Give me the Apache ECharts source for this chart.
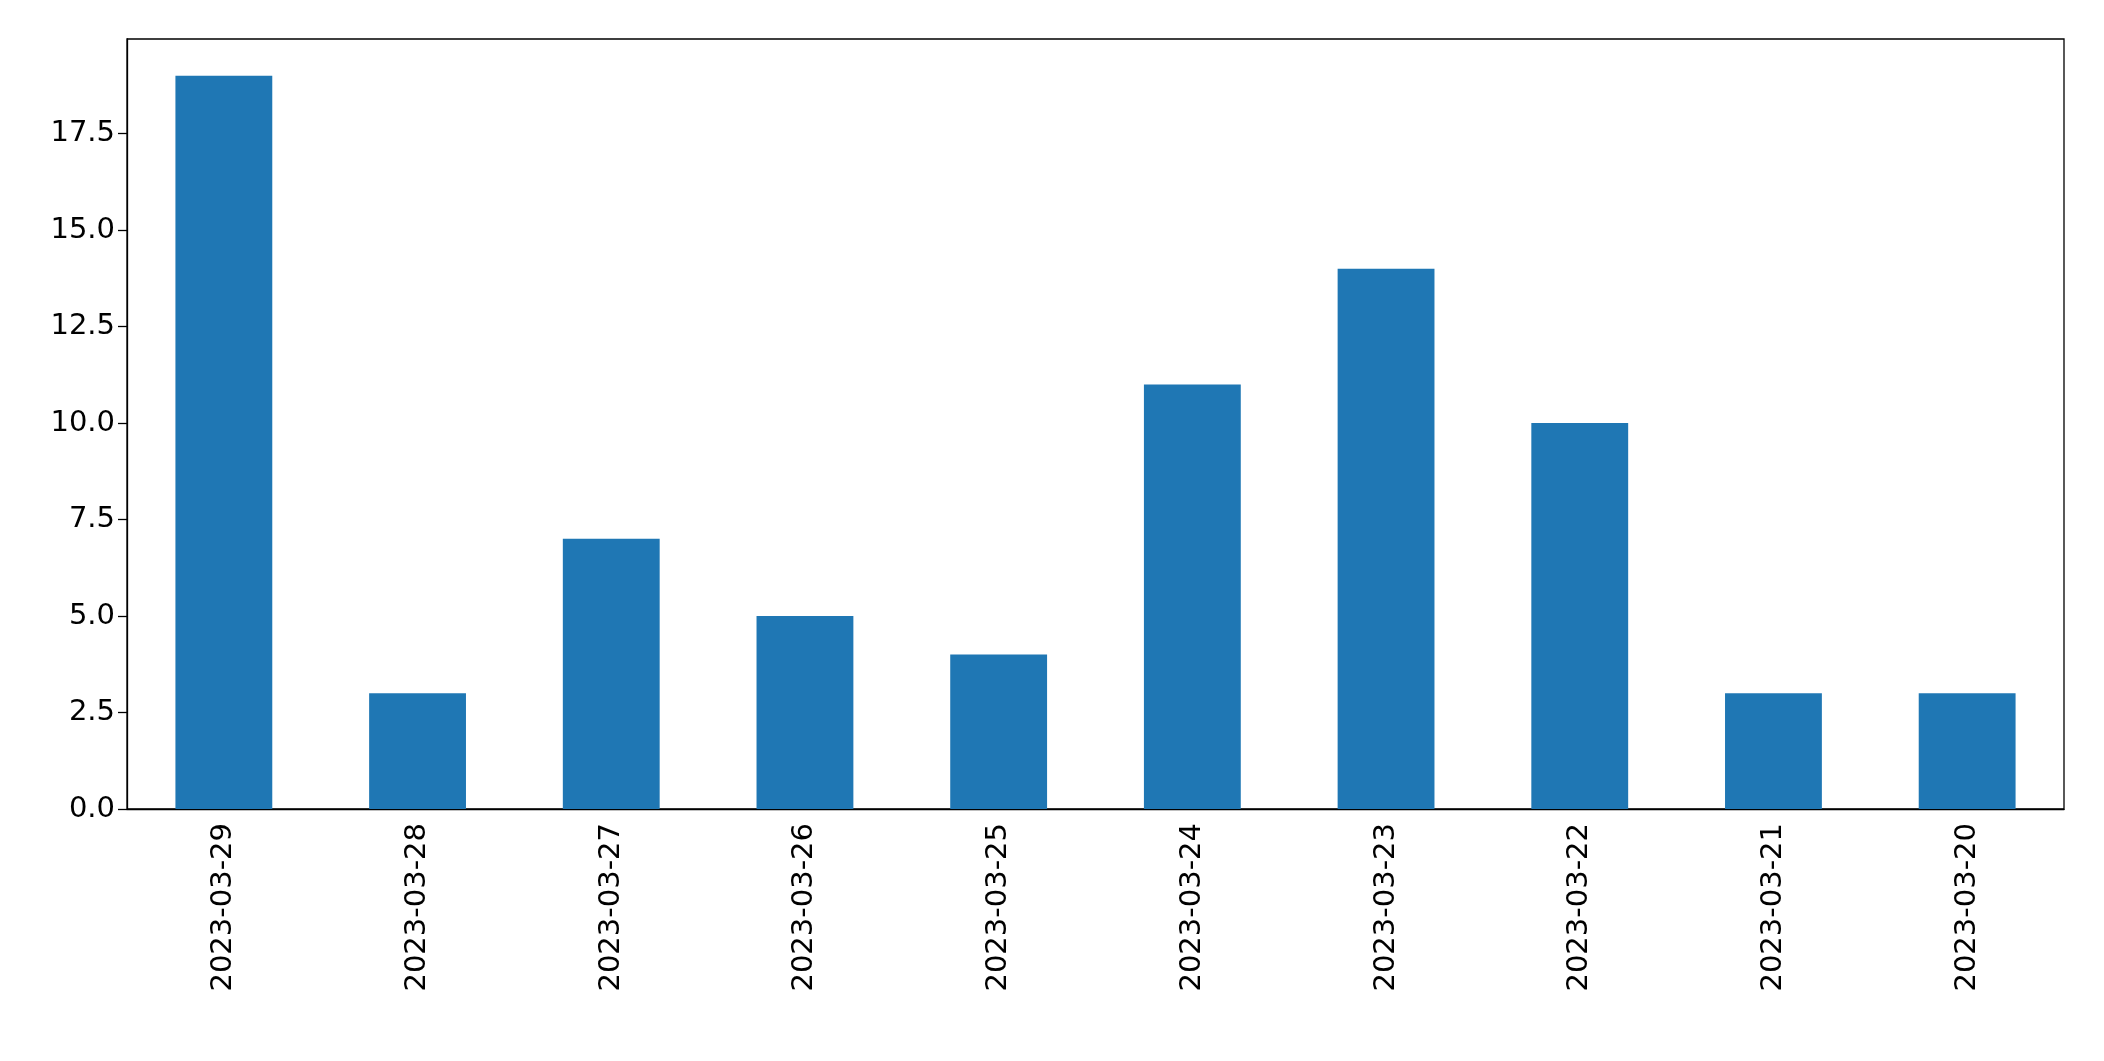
<!DOCTYPE html><html><head><meta charset="utf-8"><script src="https://cdn.jsdelivr.net/npm/echarts@6/dist/echarts.min.js"></script>
<style>html,body{margin:0;background:#fff}#c{width:2104px;height:1061px}</style></head><body><div id="c"></div><script>
const categories=['2023-03-29','2023-03-28','2023-03-27','2023-03-26','2023-03-25','2023-03-24','2023-03-23','2023-03-22','2023-03-21','2023-03-20'];
const values=[19,3,7,5,4,11,14,10,3,3];
const yTicks=[0,2.5,5,7.5,10,12.5,15,17.5];
const ch=echarts.init(document.getElementById('c'));
const font='DejaVu Sans';
ch.setOption({animation:false,
grid:{left:127,right:40,top:39,bottom:252,show:true,borderColor:'#000',borderWidth:1.3},
xAxis:{type:'category',data:categories,axisLine:{lineStyle:{color:'#000',width:1.3}},
 axisTick:{alignWithLabel:true,length:9,lineStyle:{color:'#000',width:1.3}},
 axisLabel:{rotate:90,color:'#000',fontSize:29,fontFamily:font,margin:14,interval:0}},
yAxis:{type:'value',min:0,max:19.95,interval:2.5,splitLine:{show:false},
 axisLine:{show:true,lineStyle:{color:'#000',width:1.3}},axisTick:{show:true,length:9,lineStyle:{color:'#000',width:1.3}},
 axisLabel:{color:'#000',fontSize:29,fontFamily:font,margin:12,showMaxLabel:false,formatter:v=>yTicks.includes(v)?v.toFixed(1):''}},
series:[{type:'bar',data:values,barWidth:'50%',itemStyle:{color:'#1f77b4'}}]});
</script></body></html>
